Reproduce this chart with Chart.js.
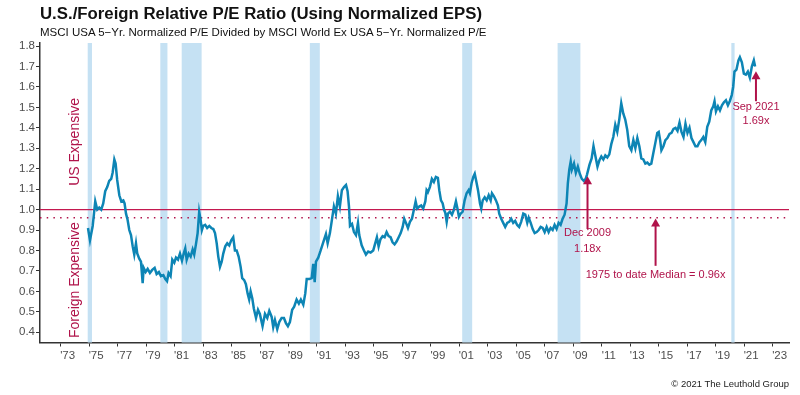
<!DOCTYPE html>
<html>
<head>
<meta charset="utf-8">
<script src="https://cdn.jsdelivr.net/npm/chart.js@4.4.0/dist/chart.umd.min.js"></script>
<style>
  body { margin: 0; background: #fff; }
  #wrap { position: relative; width: 800px; height: 395px; font-family: 'Liberation Sans', Arial, sans-serif; }
  #title { position: absolute; left: 40px; top: 4px; font-size: 16.8px; font-weight: bold; color: #111; white-space: nowrap; }
  #subtitle { position: absolute; left: 40px; top: 26px; font-size: 11.5px; color: #111; white-space: nowrap; }
  #credit { position: absolute; right: 11px; top: 378px; font-size: 9.5px; color: #222; white-space: nowrap; }
  canvas { position: absolute; left: 0; top: 0; }
</style>
</head>
<body>
<div id="wrap">
  <canvas id="chart" width="800" height="395"></canvas>
  <div id="title">U.S./Foreign Relative P/E Ratio (Using Normalized EPS)</div>
  <div id="subtitle">MSCI USA 5−Yr. Normalized P/E Divided by MSCI World Ex USA 5−Yr. Normalized P/E</div>
  <div id="credit">© 2021 The Leuthold Group</div>
</div>
<script>
// --- DATA (decimal years / relative P/E) ---
const dates = [
  1974.92, 1975.06, 1975.25, 1975.43, 1975.57, 1975.71, 1975.85, 1975.99, 1976.13, 1976.27,
  1976.41, 1976.55, 1976.65, 1976.77, 1976.86, 1976.97, 1977.12, 1977.26, 1977.40, 1977.49,
  1977.59, 1977.70, 1977.82, 1977.94, 1978.06, 1978.17, 1978.29, 1978.38, 1978.52, 1978.64,
  1978.76, 1978.83, 1978.97, 1979.11, 1979.27, 1979.43, 1979.60, 1979.74, 1979.90, 1980.04,
  1980.21, 1980.35, 1980.47, 1980.58, 1980.72, 1980.84, 1980.98, 1981.10, 1981.24, 1981.38,
  1981.52, 1981.64, 1981.75, 1981.85, 1981.99, 1982.13, 1982.27, 1982.38, 1982.50, 1982.62,
  1982.73, 1982.83, 1982.92, 1983.01, 1983.15, 1983.29, 1983.44, 1983.58, 1983.72, 1983.84,
  1983.96, 1984.07, 1984.19, 1984.31, 1984.42, 1984.56, 1984.70, 1984.84, 1984.98, 1985.12,
  1985.24, 1985.36, 1985.50, 1985.64, 1985.75, 1985.89, 1986.01, 1986.13, 1986.24, 1986.34,
  1986.46, 1986.57, 1986.72, 1986.86, 1986.99, 1987.18, 1987.35, 1987.51, 1987.65, 1987.82,
  1987.93, 1988.05, 1988.21, 1988.35, 1988.52, 1988.68, 1988.82, 1988.96, 1989.10, 1989.26,
  1989.40, 1989.57, 1989.73, 1989.87, 1990.04, 1990.18, 1990.28, 1990.46, 1990.63, 1990.74,
  1990.84, 1990.93, 1991.09, 1991.26, 1991.44, 1991.63, 1991.75, 1991.91, 1992.05, 1992.19,
  1992.33, 1992.47, 1992.61, 1992.75, 1992.90, 1993.04, 1993.15, 1993.25, 1993.32, 1993.46,
  1993.60, 1993.74, 1993.88, 1993.97, 1994.14, 1994.30, 1994.44, 1994.60, 1994.77, 1994.95,
  1995.09, 1995.21, 1995.33, 1995.46, 1995.61, 1995.75, 1995.89, 1996.03, 1996.17, 1996.31,
  1996.45, 1996.60, 1996.74, 1996.88, 1997.02, 1997.13, 1997.25, 1997.39, 1997.53, 1997.67,
  1997.81, 1997.93, 1998.04, 1998.18, 1998.32, 1998.46, 1998.61, 1998.70, 1998.79, 1998.93,
  1999.07, 1999.21, 1999.35, 1999.49, 1999.59, 1999.71, 1999.83, 1999.92, 2000.01, 2000.11,
  2000.20, 2000.34, 2000.48, 2000.62, 2000.76, 2000.88, 2000.97, 2001.09, 2001.23, 2001.37,
  2001.51, 2001.65, 2001.74, 2001.86, 2001.98, 2002.08, 2002.17, 2002.31, 2002.45, 2002.54,
  2002.64, 2002.78, 2002.92, 2003.06, 2003.20, 2003.29, 2003.43, 2003.57, 2003.71, 2003.80,
  2003.94, 2004.08, 2004.22, 2004.36, 2004.50, 2004.64, 2004.78, 2004.92, 2005.06, 2005.20,
  2005.34, 2005.49, 2005.63, 2005.77, 2005.87, 2006.01, 2006.15, 2006.29, 2006.43, 2006.57,
  2006.71, 2006.85, 2006.99, 2007.13, 2007.27, 2007.41, 2007.55, 2007.69, 2007.83, 2007.97,
  2008.11, 2008.25, 2008.39, 2008.53, 2008.62, 2008.72, 2008.82, 2008.90, 2009.05, 2009.18,
  2009.32, 2009.46, 2009.60, 2009.74, 2009.87, 2009.96, 2010.14, 2010.29, 2010.42, 2010.56,
  2010.70, 2010.83, 2010.97, 2011.11, 2011.25, 2011.39, 2011.53, 2011.67, 2011.81, 2011.95,
  2012.09, 2012.23, 2012.37, 2012.51, 2012.65, 2012.79, 2012.93, 2013.08, 2013.22, 2013.36,
  2013.50, 2013.64, 2013.78, 2013.92, 2014.06, 2014.20, 2014.34, 2014.48, 2014.62, 2014.76,
  2014.90, 2015.00, 2015.10, 2015.19, 2015.33, 2015.47, 2015.61, 2015.76, 2015.90, 2016.04,
  2016.18, 2016.32, 2016.46, 2016.60, 2016.74, 2016.88, 2017.02, 2017.16, 2017.30, 2017.44,
  2017.58, 2017.72, 2017.86, 2017.99, 2018.13, 2018.27, 2018.41, 2018.55, 2018.69, 2018.83,
  2018.92, 2019.02, 2019.16, 2019.30, 2019.44, 2019.58, 2019.72, 2019.86, 2019.99, 2020.13,
  2020.23, 2020.32, 2020.46, 2020.60, 2020.70, 2020.84, 2020.98, 2021.12, 2021.26, 2021.40,
  2021.54, 2021.68, 2021.77
];
const ratio = [
  0.91, 0.85, 0.92, 1.04, 1.00, 1.01, 1.00, 1.03, 1.09, 1.11,
  1.14, 1.15, 1.18, 1.245, 1.225, 1.145, 1.07, 1.04, 1.045, 1.03,
  0.98, 0.95, 0.90, 0.875, 0.82, 0.78, 0.835, 0.785, 0.76, 0.745,
  0.64, 0.715, 0.695, 0.71, 0.69, 0.705, 0.715, 0.685, 0.695, 0.675,
  0.68, 0.66, 0.65, 0.69, 0.675, 0.755, 0.74, 0.765, 0.755, 0.785,
  0.75, 0.785, 0.81, 0.755, 0.785, 0.77, 0.805, 0.78, 0.83, 0.885,
  0.99, 0.95, 0.90, 0.92, 0.925, 0.91, 0.92, 0.91, 0.905, 0.885,
  0.835, 0.77, 0.72, 0.745, 0.785, 0.82, 0.835, 0.825, 0.85, 0.865,
  0.80, 0.80, 0.77, 0.72, 0.665, 0.655, 0.635, 0.59, 0.56, 0.60,
  0.565, 0.515, 0.47, 0.51, 0.49, 0.43, 0.49, 0.47, 0.505, 0.475,
  0.425, 0.46, 0.415, 0.45, 0.47, 0.47, 0.445, 0.43, 0.45, 0.51,
  0.525, 0.56, 0.54, 0.56, 0.535, 0.59, 0.66, 0.66, 0.665, 0.735,
  0.645, 0.745, 0.765, 0.80, 0.84, 0.88, 0.835, 0.885, 0.95, 1.015,
  0.98, 1.065, 1.015, 1.095, 1.11, 1.12, 1.09, 1.015, 0.92, 0.93,
  0.89, 0.875, 0.935, 0.875, 0.825, 0.80, 0.78, 0.795, 0.79, 0.80,
  0.835, 0.865, 0.82, 0.855, 0.87, 0.865, 0.89, 0.87, 0.865, 0.84,
  0.83, 0.845, 0.865, 0.885, 0.915, 0.955, 0.935, 0.91, 0.94, 0.955,
  1.00, 1.04, 1.005, 1.015, 1.02, 1.005, 1.04, 1.095, 1.085, 1.11,
  1.15, 1.135, 1.16, 1.155, 1.095, 1.045, 1.03, 1.00, 0.985, 0.94,
  0.98, 0.99, 0.975, 1.00, 1.04, 1.00, 0.965, 0.98, 0.99, 1.045,
  1.08, 1.095, 1.08, 1.13, 1.16, 1.175, 1.145, 1.095, 1.03, 1.005,
  1.045, 1.06, 1.045, 1.07, 1.045, 1.08, 1.065, 1.045, 1.02, 0.98,
  0.955, 0.935, 0.915, 0.935, 0.94, 0.955, 0.935, 0.945, 0.925, 0.915,
  0.94, 0.98, 0.975, 0.935, 0.96, 0.935, 0.905, 0.885, 0.89, 0.90,
  0.915, 0.91, 0.89, 0.915, 0.89, 0.91, 0.90, 0.925, 0.905, 0.935,
  0.925, 0.955, 0.975, 1.03, 1.13, 1.195, 1.235, 1.195, 1.225, 1.18,
  1.21, 1.175, 1.15, 1.14, 1.15, 1.17, 1.22, 1.25, 1.31, 1.26,
  1.21, 1.24, 1.26, 1.245, 1.265, 1.255, 1.27, 1.32, 1.355, 1.415,
  1.38, 1.44, 1.52, 1.47, 1.44, 1.39, 1.31, 1.29, 1.34, 1.30,
  1.35, 1.31, 1.25, 1.245, 1.225, 1.23, 1.22, 1.225, 1.275, 1.325,
  1.375, 1.38, 1.34, 1.29, 1.31, 1.34, 1.35, 1.37, 1.375, 1.395,
  1.40, 1.385, 1.425, 1.38, 1.355, 1.42, 1.375, 1.40, 1.35, 1.33,
  1.31, 1.31, 1.33, 1.34, 1.355, 1.33, 1.405, 1.43, 1.485, 1.505,
  1.53, 1.48, 1.505, 1.485, 1.51, 1.525, 1.535, 1.51, 1.53, 1.56,
  1.60, 1.675, 1.685, 1.73, 1.745, 1.72, 1.665, 1.66, 1.675, 1.645,
  1.70, 1.73, 1.70
];

// recessions (shaded)
const recStart = [1974.9, 1980.0, 1981.5, 1990.5, 2001.2, 2007.9, 2020.1];
const recEnd   = [1975.2, 1980.5, 1982.9, 1991.2, 2001.9, 2009.5, 2020.33];

const yearTicks = [1973, 1975, 1977, 1979, 1981, 1983, 1985, 1987, 1989, 1991, 1993, 1995, 1997,
  1999, 2001, 2003, 2005, 2007, 2009, 2011, 2013, 2015, 2017, 2019, 2021, 2023];
const yTicks = [0.4, 0.5, 0.6, 0.7, 0.8, 0.9, 1.0, 1.1, 1.2, 1.3, 1.4, 1.5, 1.6, 1.7, 1.8];

const parity = 1.0;
const median = 0.96;

const xMin = 1971.55, xMax = 2024.15;
const yMin = 0.35, yMax = 1.8147;

// --- STYLE ---
const lineColor = '#0D85B5';
const redColor = '#B0134A';
const parityColor = '#C4184F';
const bandColor = '#C5E1F3';
const axisColor = '#333333';
const tickColor = '#4D4D4D';
const FONT = "'Liberation Sans', Arial, sans-serif";

Chart.defaults.font.family = FONT;

// callouts: x value, arrow tip/tail values, label lines with their y values
const callouts = [
  { x: 2010.0, tip: 1.163, tail: 0.905, lines: [['Dec 2009', 0.887], ['1.18x', 0.809]] },
  { x: 2014.78, tip: 0.957, tail: 0.725, lines: [['1975 to date Median = 0.96x', 0.680]] },
  { x: 2021.83, tip: 1.676, tail: 1.53, lines: [['Sep 2021', 1.503], ['1.69x', 1.433]] }
];

const series = dates.map((d, i) => ({ x: d, y: ratio[i] }));

const bandsPlugin = {
    id: 'bands',
    beforeDatasetsDraw(chart) {
        const { ctx, chartArea, scales } = chart;
        ctx.save();
        ctx.fillStyle = bandColor;
        recStart.forEach((s, i) => {
            const x0 = scales.x.getPixelForValue(s);
            const x1 = scales.x.getPixelForValue(recEnd[i]);
            ctx.fillRect(x0, chartArea.top, x1 - x0, chartArea.bottom - chartArea.top);
        });
        ctx.restore();
    }
};

const notesPlugin = {
    id: 'notes',
    afterDatasetsDraw(chart) {
        const { ctx, scales } = chart;
        const xs = scales.x, ys = scales.y;
        ctx.save();
        ctx.fillStyle = redColor;
        ctx.strokeStyle = redColor;

        // rotated side labels
        ctx.font = '14px ' + FONT;
        ctx.textAlign = 'center';
        ctx.textBaseline = 'middle';
        [['US Expensive', 1.331], ['Foreign Expensive', 0.655]].forEach(([txt, v]) => {
            ctx.save();
            ctx.translate(xs.getPixelForValue(1974.0), ys.getPixelForValue(v));
            ctx.rotate(-Math.PI / 2);
            ctx.fillText(txt, 0, 0);
            ctx.restore();
        });

        // arrows + labels
        ctx.font = '11px ' + FONT;
        callouts.forEach(c => {
            const x = xs.getPixelForValue(c.x);
            const yTip = ys.getPixelForValue(c.tip);
            const yTail = ys.getPixelForValue(c.tail);
            ctx.lineWidth = 2;
            ctx.beginPath();
            ctx.moveTo(x, yTip + 6);
            ctx.lineTo(x, yTail);
            ctx.stroke();
            ctx.beginPath();
            ctx.moveTo(x, yTip);
            ctx.lineTo(x - 4.5, yTip + 8);
            ctx.lineTo(x + 4.5, yTip + 8);
            ctx.closePath();
            ctx.fill();
            c.lines.forEach(([txt, v]) => {
                ctx.fillText(txt, x, ys.getPixelForValue(v));
            });
        });
        ctx.restore();
    }
};

new Chart(document.getElementById('chart'), {
    type: 'line',
    data: {
        datasets: [
            {
                data: series,
                borderColor: lineColor,
                borderWidth: 2.5,
                pointRadius: 0,
                tension: 0
            },
            {
                data: [{ x: xMin, y: parity }, { x: xMax, y: parity }],
                borderColor: parityColor,
                borderWidth: 1.4,
                pointRadius: 0
            },
            {
                data: [{ x: xMin, y: median }, { x: xMax, y: median }],
                borderColor: redColor,
                borderWidth: 1.3,
                borderDash: [1.5, 5.2],
                pointRadius: 0
            }
        ]
    },
    options: {
        responsive: false,
        animation: false,
        devicePixelRatio: 1,
        layout: { autoPadding: false, padding: { top: 43, right: 11, bottom: 22.5, left: 0 } },
        plugins: { legend: { display: false }, tooltip: { enabled: false } },
        scales: {
            x: {
                type: 'linear',
                min: xMin,
                max: xMax,
                afterBuildTicks: s => { s.ticks = yearTicks.map(v => ({ value: v })); },
                afterFit: s => { s.height = 30; },
                grid: { drawOnChartArea: false, drawTicks: true, tickLength: 4, tickColor: axisColor, tickWidth: 1 },
                border: { color: axisColor, width: 1.5 },
                ticks: {
                    callback: v => "'" + String(v).slice(2),
                    labelOffset: 7,
                    padding: 2,
                    autoSkip: false,
                    maxRotation: 0,
                    color: tickColor,
                    font: { size: 11.5 }
                }
            },
            y: {
                min: yMin,
                max: yMax,
                afterBuildTicks: s => { s.ticks = yTicks.map(v => ({ value: v })); },
                afterFit: s => { s.width = 40; },
                grid: { drawOnChartArea: false, drawTicks: true, tickLength: 4, tickColor: axisColor, tickWidth: 1 },
                border: { color: axisColor, width: 1.5 },
                ticks: {
                    callback: v => v.toFixed(1),
                    padding: 1,
                    color: tickColor,
                    font: { size: 11.5 }
                }
            }
        }
    },
    plugins: [bandsPlugin, notesPlugin]
});
</script>
</body>
</html>
